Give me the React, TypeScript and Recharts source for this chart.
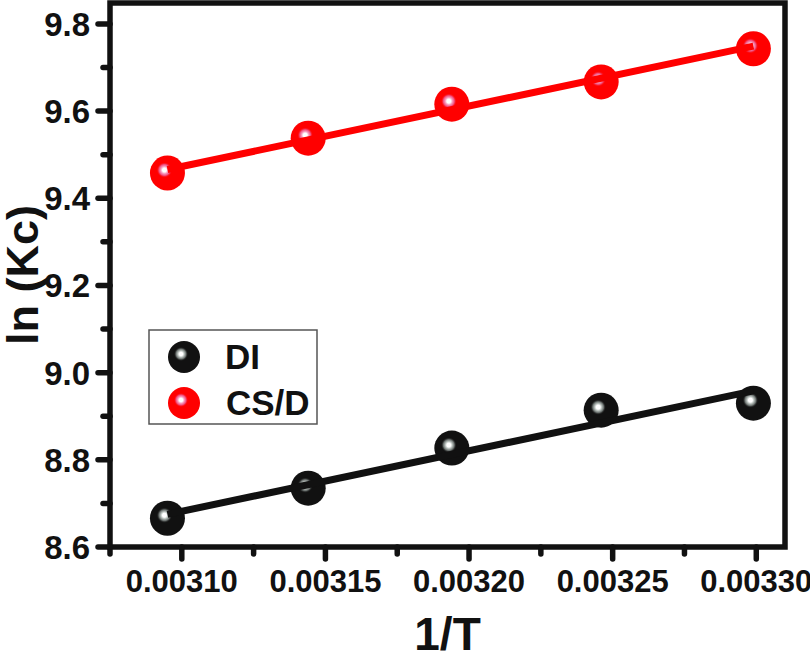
import React from "react";
import { ComposedChart, Scatter, XAxis, YAxis, Label } from "recharts";

// 1/T values and ln(Kc)
const invT = [0.003095, 0.003144, 0.003194, 0.003246, 0.003299];
const lnKcDI = [8.666, 8.735, 8.827, 8.914, 8.93];
const lnKcCSD = [9.458, 9.538, 9.616, 9.667, 9.743];

// linear fit end points
const fitX = [0.003095, 0.003299];
const fitDI = [8.675, 8.958];
const fitCSD = [9.466, 9.749];

const xDomain = [0.003075, 0.00331];
const yDomain = [8.6, 9.848];
const xMajorTicks = [0.0031, 0.00315, 0.0032, 0.00325, 0.0033];
const xMinorTicks = [0.003075, 0.003125, 0.003175, 0.003225, 0.003275];
const yMajorTicks = [8.6, 8.8, 9.0, 9.2, 9.4, 9.6, 9.8];
const yMinorTicks = [8.7, 8.9, 9.1, 9.3, 9.5, 9.7];

const seriesNames = ["DI", "CS/D"];

const W = 810;
const H = 656;
const MARGIN = { top: 3, right: 25, left: 0, bottom: 0 };
const Y_AXIS_W = 110;
const X_AXIS_H = 109;

const FONT = "'Liberation Sans', Arial, Helvetica, sans-serif";
const RED = "#ff0000";
const BLACK = "#111111";

const toPoints = (xs: number[], ys: number[]) => xs.map((x, i) => ({ x, y: ys[i] }));
const isMajor = (v: number, majors: number[]) => majors.some((m) => Math.abs(m - v) < 1e-9);

function Ball({ cx, cy, kind, r = 17.5 }: any) {
  const base = kind === "red" ? RED : BLACK;
  return (
    <g>
      <circle cx={cx} cy={cy} r={r} fill={base} />
      <circle cx={cx - 3} cy={cy - 3} r={r * 0.45} fill={`url(#hl-${kind})`} />
    </g>
  );
}

function YTick({ x, y, payload }: any) {
  const major = isMajor(payload.value, yMajorTicks);
  return (
    <g>
      <line x1={x} x2={x - (major ? 12 : 7)} y1={y} y2={y} stroke={BLACK} strokeWidth={5.5} strokeLinecap="round" />
      {major && (
        <text x={x - 20} y={y + 12} textAnchor="end" fontFamily={FONT} fontWeight="bold" fontSize={33} fill={BLACK}>
          {payload.value.toFixed(1)}
        </text>
      )}
    </g>
  );
}

function XTick({ x, y, payload }: any) {
  const major = isMajor(payload.value, xMajorTicks);
  return (
    <g>
      <line x1={x} x2={x} y1={y} y2={y + (major ? 12 : 7)} stroke={BLACK} strokeWidth={5.5} strokeLinecap="round" />
      {major && (
        <text x={x} y={y + 45} textAnchor="middle" fontFamily={FONT} fontWeight="bold" fontSize={31} fill={BLACK}>
          {payload.value.toFixed(5)}
        </text>
      )}
    </g>
  );
}

export default function App() {
  const plotX = MARGIN.left + Y_AXIS_W;
  const plotY = MARGIN.top;
  const plotW = W - MARGIN.right - plotX;
  const plotH = H - MARGIN.bottom - X_AXIS_H - plotY;
  return (
    <div style={{ position: "absolute", left: 0, top: 0, width: W, height: H, background: "#fff" }}>
      <ComposedChart width={W} height={H} margin={MARGIN}>
        <defs>
          <radialGradient id="hl-red" cx="0.5" cy="0.5" r="0.5">
            <stop offset="0" stopColor="#ffffff" />
            <stop offset="0.25" stopColor="#ffffff" />
            <stop offset="0.45" stopColor="#f7a0c0" />
            <stop offset="0.7" stopColor="#f05080" />
            <stop offset="1" stopColor={RED} stopOpacity="0" />
          </radialGradient>
          <radialGradient id="hl-black" cx="0.5" cy="0.5" r="0.5">
            <stop offset="0" stopColor="#ffffff" />
            <stop offset="0.25" stopColor="#ffffff" />
            <stop offset="0.45" stopColor="#b8c0bc" />
            <stop offset="0.7" stopColor="#6a706e" />
            <stop offset="1" stopColor={BLACK} stopOpacity="0" />
          </radialGradient>
        </defs>

        {/* plot frame */}
        <rect x={plotX} y={plotY} width={plotW} height={plotH} fill="none" stroke={BLACK} strokeWidth={5.5} />

        <XAxis
          dataKey="x"
          type="number"
          domain={xDomain}
          allowDataOverflow
          ticks={[...xMajorTicks, ...xMinorTicks].sort((a, b) => a - b)}
          interval={0}
          tick={<XTick />}
          tickLine={false}
          tickSize={0}
          tickMargin={0}
          axisLine={false}
          height={X_AXIS_H}
        >
          <Label value="1/T" position="insideBottom" offset={6} fontFamily={FONT} fontWeight="bold" fontSize={46} fill={BLACK} />
        </XAxis>
        <YAxis
          dataKey="y"
          type="number"
          domain={yDomain}
          allowDataOverflow
          ticks={[...yMajorTicks, ...yMinorTicks].sort((a, b) => a - b)}
          interval={0}
          tick={<YTick />}
          tickLine={false}
          tickSize={0}
          tickMargin={0}
          axisLine={false}
          width={Y_AXIS_W}
        >
          <Label
            content={(props: any) => {
              const vb = props.viewBox;
              const cx = vb.x + 22;
              const cy = vb.y + vb.height / 2;
              return (
                <text x={cx} y={cy} transform={`rotate(-90 ${cx} ${cy})`} textAnchor="middle" dominantBaseline="central" fontFamily={FONT} fontWeight="bold" fontSize={45} fill={BLACK}>
                  ln (Kc)
                </text>
              );
            }}
          />
        </YAxis>

        <Scatter
          name={seriesNames[0]}
          data={toPoints(invT, lnKcDI)}
          shape={(p: any) => <Ball cx={p.cx} cy={p.cy} kind="black" />}
          isAnimationActive={false}
        />
        <Scatter
          name={seriesNames[1]}
          data={toPoints(invT, lnKcCSD)}
          shape={(p: any) => <Ball cx={p.cx} cy={p.cy} kind="red" />}
          isAnimationActive={false}
        />
        <Scatter
          data={toPoints(fitX, fitDI)}
          line={{ stroke: BLACK, strokeWidth: 7 }}
          shape={() => <g />}
          isAnimationActive={false}
        />
        <Scatter
          data={toPoints(fitX, fitCSD)}
          line={{ stroke: RED, strokeWidth: 7 }}
          shape={() => <g />}
          isAnimationActive={false}
        />

        <g className="legend">
          <rect x={149} y={330} width={168} height={94} fill="#fff" stroke="#555" strokeWidth={1.5} />
          <Ball cx={184} cy={357} r={16} kind="black" />
          <Ball cx={184} cy={403} r={16} kind="red" />
          <text x={225} y={369} fontFamily={FONT} fontWeight="bold" fontSize={35} fill={BLACK}>
            {seriesNames[0]}
          </text>
          <text x={226} y={415} fontFamily={FONT} fontWeight="bold" fontSize={35} fill={BLACK}>
            {seriesNames[1]}
          </text>
        </g>
      </ComposedChart>
    </div>
  );
}
